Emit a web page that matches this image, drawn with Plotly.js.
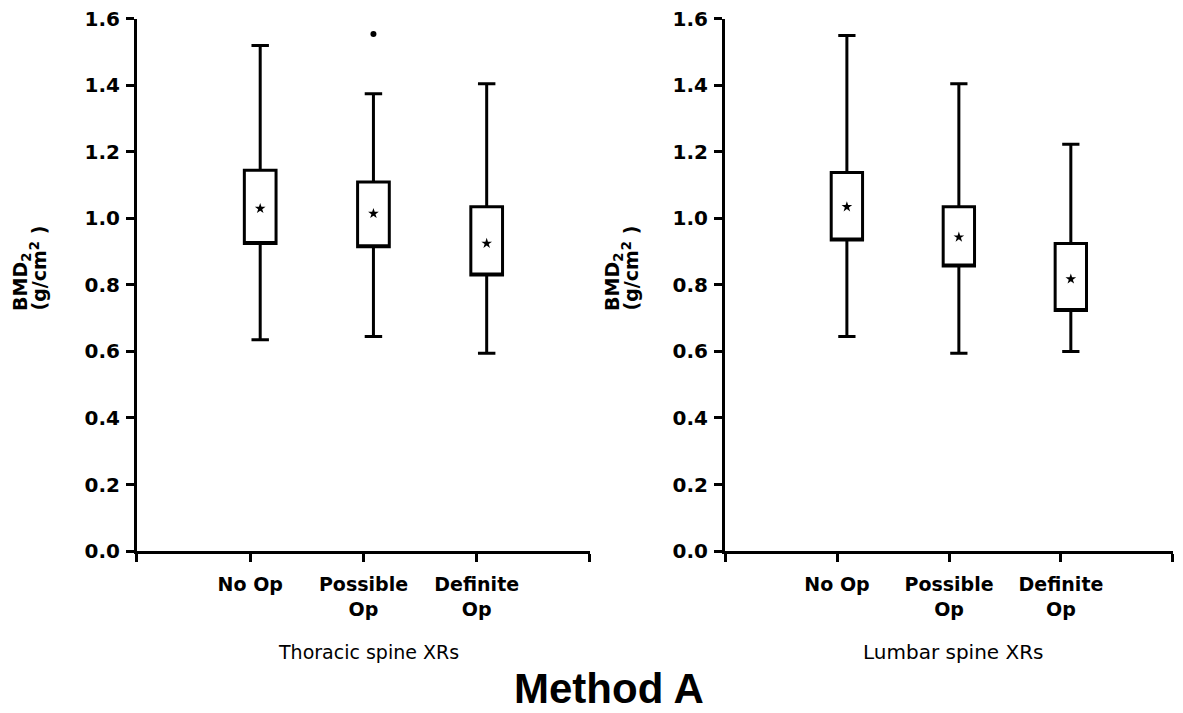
<!DOCTYPE html>
<html>
<head>
<meta charset="utf-8">
<script src="https://cdn.plot.ly/plotly-3.0.1.min.js"></script>
<style>html,body{margin:0;padding:0;background:#fff}#chart{width:1183px;height:713px}</style>
</head>
<body>
<div id="chart"></div>
<script>
// ----- data -----
const groups = ['No Op', 'Possible Op', 'Definite Op'];
const groupPos = [1, 2, 3];
const tickLabels = ['No Op', 'Possible<br>Op', 'Definite<br>Op'];
const endTicks = [0, 4];

// Thoracic spine XRs
const thorLower = [0.635, 0.645, 0.595];
const thorQ1    = [0.925, 0.915, 0.830];
const thorQ3    = [1.145, 1.110, 1.035];
const thorUpper = [1.520, 1.375, 1.405];
const thorMean  = [1.030, 1.015, 0.925];
const thorOutX  = [2];
const thorOutY  = [1.555];

// Lumbar spine XRs
const lumbLower = [0.645, 0.595, 0.600];
const lumbQ1    = [0.935, 0.857, 0.723];
const lumbQ3    = [1.138, 1.035, 0.925];
const lumbUpper = [1.550, 1.405, 1.223];
const lumbMean  = [1.035, 0.944, 0.818];

const yTicks = [0, 0.2, 0.4, 0.6, 0.8, 1.0, 1.2, 1.4, 1.6];
const yTickText = ['0.0','0.2','0.4','0.6','0.8','1.0','1.2','1.4','1.6'];

// ----- styling -----
const LW = 3;
const boxStyle = {
  type: 'box', fillcolor: '#ffffff', line: {color: '#000', width: LW},
  width: 0.28, whiskerwidth: 0.55, boxpoints: false, showlegend: false, hoverinfo: 'skip'
};

function boxTrace(q1, q3, lo, hi, xa, ya) {
  // the figure shows no median line; median placed on the lower hinge so no extra line is drawn
  return Object.assign({}, boxStyle, {
    x: groupPos, q1: q1, median: q1, q3: q3, lowerfence: lo, upperfence: hi,
    xaxis: xa, yaxis: ya
  });
}
function meanTrace(m, xa, ya) {
  return {type: 'scatter', mode: 'markers', x: groupPos, y: m, xaxis: xa, yaxis: ya,
    marker: {symbol: 'star', size: 8, color: '#000'}, showlegend: false, hoverinfo: 'skip'};
}

const data = [
  boxTrace(thorQ1, thorQ3, thorLower, thorUpper, 'x3', 'y'),
  meanTrace(thorMean, 'x3', 'y'),
  {type: 'scatter', mode: 'markers', x: thorOutX, y: thorOutY, xaxis: 'x3', yaxis: 'y',
   marker: {symbol: 'circle', size: 6, color: '#000'}, showlegend: false, hoverinfo: 'skip'},
  boxTrace(lumbQ1, lumbQ3, lumbLower, lumbUpper, 'x4', 'y2'),
  meanTrace(lumbMean, 'x4', 'y2'),
  // invisible anchors so the visible axes are drawn
  {type: 'scatter', mode: 'markers', x: [0], y: [0], xaxis: 'x', yaxis: 'y', marker: {opacity: 0}, showlegend: false, hoverinfo: 'skip'},
  {type: 'scatter', mode: 'markers', x: [0], y: [0], xaxis: 'x2', yaxis: 'y2', marker: {opacity: 0}, showlegend: false, hoverinfo: 'skip'}
];

const FONT = 'DejaVu Sans, Liberation Sans, Arial, sans-serif';
const yDom = [0.2272, 0.9734];

function xAxis(dom, anchor) {
  return {domain: dom, anchor: anchor, range: [0, 4], tickmode: 'array', tickvals: groupPos, ticktext: tickLabels,
    ticks: 'outside', ticklen: 8, tickwidth: LW, tickcolor: '#000', showline: true, linewidth: LW, linecolor: '#000',
    minor: {tickmode: 'array', tickvals: endTicks, ticks: 'outside', ticklen: 8, tickwidth: LW, tickcolor: '#000', showgrid: false},
    showgrid: false, zeroline: false, fixedrange: true, ticklabelstandoff: 6,
    tickfont: {family: FONT, size: 19, color: '#000', weight: 'bold'}};
}
function yAxis(anchor) {
  return {domain: yDom, anchor: anchor, range: [0, 1.6], tickmode: 'array', tickvals: yTicks, ticktext: yTickText,
    ticks: 'outside', ticklen: 8, tickwidth: LW, tickcolor: '#000', showline: true, linewidth: LW, linecolor: '#000',
    showgrid: false, zeroline: false, fixedrange: true, ticklabelstandoff: 2,
    tickfont: {family: FONT, size: 20, color: '#000', weight: 'bold'}};
}
function hiddenX(over, dom, anchor) {
  return {overlaying: over, domain: dom, anchor: anchor, range: [-0.088, 3.912], visible: false, fixedrange: true};
}

const xL = [0.1158, 0.4987], xR = [0.6129, 0.9915];
const titleFont = {family: FONT, size: 19, color: '#000', weight: 'bold'};
function rotLabel(text, xpx) {
  return {text: text, textangle: -90, xref: 'paper', yref: 'paper', x: xpx / 1183, y: (713 - 313) / 713,
    xanchor: 'center', yanchor: 'bottom', showarrow: false, font: titleFont};
}
const layout = {
  width: 1183, height: 713, margin: {l: 0, r: 0, t: 0, b: 0},
  paper_bgcolor: '#fff', plot_bgcolor: 'rgba(0,0,0,0)', showlegend: false,
  xaxis: xAxis(xL, 'y'), yaxis: yAxis('x'),
  xaxis2: xAxis(xR, 'y2'), yaxis2: yAxis('x2'),
  xaxis3: hiddenX('x', xL, 'y'), xaxis4: hiddenX('x2', xR, 'y2'),
  annotations: [
    rotLabel('BMD<sub>2</sub>', 21),
    rotLabel('(g/cm<sup>2</sup> )', 38),
    rotLabel('BMD<sub>2</sub>', 613),
    rotLabel('(g/cm<sup>2</sup> )', 630),
    {text: 'Thoracic spine XRs', xref: 'x domain', yref: 'paper', x: 0.51, y: (713 - 652) / 713,
     xanchor: 'center', yanchor: 'middle', showarrow: false, font: {family: FONT, size: 19, color: '#000'}},
    {text: 'Lumbar spine XRs', xref: 'x2 domain', yref: 'paper', x: 0.51, y: (713 - 652) / 713,
     xanchor: 'center', yanchor: 'middle', showarrow: false, font: {family: FONT, size: 20, color: '#000'}},
    {text: 'Method A', xref: 'paper', yref: 'paper', x: 0.515, y: (713 - 688) / 713,
     xanchor: 'center', yanchor: 'middle', showarrow: false,
     font: {family: 'Liberation Sans, Arial, sans-serif', size: 42, color: '#000', weight: 'bold'}}
  ]
};

Plotly.newPlot('chart', data, layout, {staticPlot: true, displayModeBar: false});
</script>
</body>
</html>
